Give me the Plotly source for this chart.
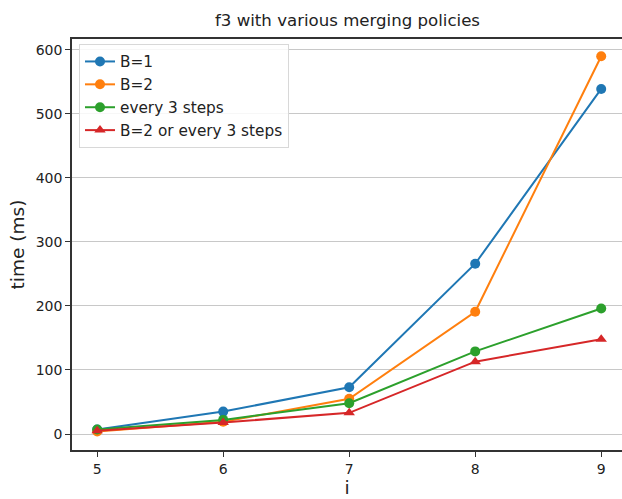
import plotly.graph_objects as go

x_vals = [5, 6, 7, 8, 9]
b1 = [7, 35, 73, 266, 539]
b2 = [4, 19, 55, 191, 590]
every3 = [7, 22, 48, 129, 196]
b2_or_every3 = [5, 18, 33, 113, 148]
y_ticks = [0, 100, 200, 300, 400, 500, 600]

series = [
    ("B=1", b1, "#1f77b4", "circle"),
    ("B=2", b2, "#ff7f0e", "circle"),
    ("every 3 steps", every3, "#2ca02c", "circle"),
    ("B=2 or every 3 steps", b2_or_every3, "#d62728", "triangle-up"),
]

fig = go.Figure()
for name, vals, color, sym in series:
    fig.add_trace(go.Scatter(
        x=x_vals, y=vals, name=name, mode="lines+markers",
        line=dict(color=color, width=2),
        marker=dict(color=color, size=10, symbol=sym),
    ))

font = "DejaVu Sans"
fig.update_layout(
    width=622, height=499,
    margin=dict(l=72, r=0, t=39, b=49),
    paper_bgcolor="white", plot_bgcolor="white",
    font=dict(family=font, size=14, color="#222"),
    title=dict(text="f3 with various merging policies", x=347.5 / 622, xanchor="center", xref="container",
               y=1 - 20 / 499, yanchor="middle", yref="container",
               font=dict(size=16.6, family=font, color="#222")),
    showlegend=True,
    legend=dict(x=7 / 550, y=1 - 5 / 411, xanchor="left", yanchor="top",
                bordercolor="#d8d8d8", borderwidth=1, bgcolor="rgba(255,255,255,0.85)",
                font=dict(size=15.3, family=font, color="#222"), tracegroupgap=0,
                itemwidth=30),
    xaxis=dict(range=[4.8, 9.165], tickvals=x_vals, ticktext=[str(v) for v in x_vals],
               showgrid=False, zeroline=False, showline=True, linecolor="#333", linewidth=1.5,
               mirror=True, ticks="outside", ticklen=5, tickcolor="#333", automargin=False,
               title=dict(text="i", font=dict(size=18.5, family=font), standoff=4),
               tickfont=dict(size=14)),
    yaxis=dict(range=[-25, 617], tickvals=y_ticks, ticktext=[str(v) for v in y_ticks],
               showgrid=True, gridcolor="#c8c8c8", gridwidth=1.2, zeroline=False,
               showline=True, linecolor="#333", linewidth=1.5, automargin=False,
               ticks="outside", ticklen=5, tickcolor="#333",
               title=dict(text="time (ms)", font=dict(size=18.5, family=font), standoff=6),
               tickfont=dict(size=14)),
)

fig.write_html("out.html", config={"displayModeBar": False},
               post_script="document.body.style.margin='0px';")
